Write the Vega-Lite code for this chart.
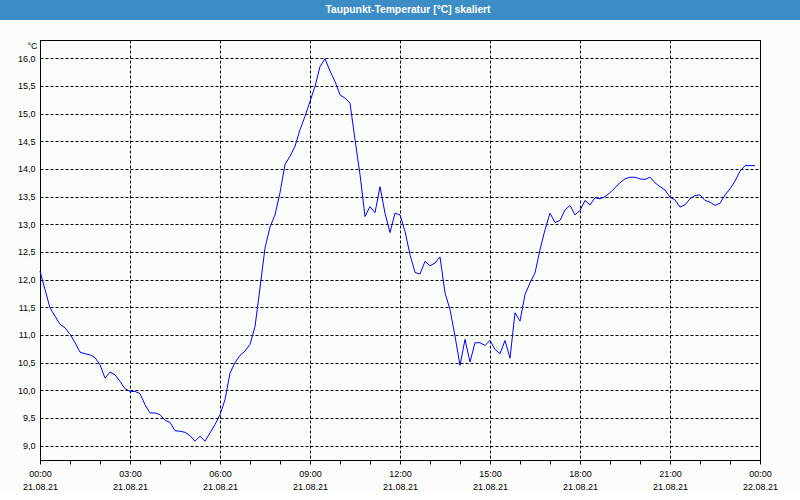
{
  "$schema": "https://vega.github.io/schema/vega-lite/v6.json",
  "padding": 0,
  "background": "#fbfdfb",
  "spacing": 20,
  "center": true,
  "bounds": "flush",
  "config": {"font": "Liberation Sans"},
  "vconcat": [
    {
      "width": 800,
      "height": 20,
      "view": {"fill": "#3c8dc5", "stroke": null},
      "data": {"values": [{"title": "Taupunkt-Temperatur [°C] skaliert"}]},
      "mark": {"type": "text", "color": "#ffffff", "font": "Liberation Sans", "fontWeight": "bold", "fontSize": 10.3, "dx": 8, "baseline": "middle"},
      "encoding": {"text": {"field": "title", "type": "nominal"}}
    },
    {
      "width": 720,
      "height": 420,
      "view": {"stroke": "#000000", "strokeWidth": 1, "fill": "#fbfdfb"},
      "data": {"values": [
        {"t":"2021-08-21T00:00","v":12.15},{"t":"2021-08-21T00:10","v":11.82},{"t":"2021-08-21T00:20","v":11.49},{"t":"2021-08-21T00:30","v":11.34},{"t":"2021-08-21T00:40","v":11.19},{"t":"2021-08-21T00:50","v":11.13},
        {"t":"2021-08-21T01:00","v":11.01},{"t":"2021-08-21T01:10","v":10.86},{"t":"2021-08-21T01:20","v":10.69},{"t":"2021-08-21T01:30","v":10.66},{"t":"2021-08-21T01:40","v":10.64},{"t":"2021-08-21T01:50","v":10.59},
        {"t":"2021-08-21T02:00","v":10.46},{"t":"2021-08-21T02:10","v":10.22},{"t":"2021-08-21T02:20","v":10.33},{"t":"2021-08-21T02:30","v":10.28},{"t":"2021-08-21T02:40","v":10.16},{"t":"2021-08-21T02:50","v":10.03},
        {"t":"2021-08-21T03:00","v":9.98},{"t":"2021-08-21T03:10","v":9.98},{"t":"2021-08-21T03:20","v":9.94},{"t":"2021-08-21T03:30","v":9.74},{"t":"2021-08-21T03:40","v":9.59},{"t":"2021-08-21T03:50","v":9.59},
        {"t":"2021-08-21T04:00","v":9.56},{"t":"2021-08-21T04:10","v":9.46},{"t":"2021-08-21T04:20","v":9.42},{"t":"2021-08-21T04:30","v":9.27},{"t":"2021-08-21T04:40","v":9.26},{"t":"2021-08-21T04:50","v":9.24},
        {"t":"2021-08-21T05:00","v":9.18},{"t":"2021-08-21T05:10","v":9.08},{"t":"2021-08-21T05:20","v":9.17},{"t":"2021-08-21T05:30","v":9.08},{"t":"2021-08-21T05:40","v":9.23},{"t":"2021-08-21T05:50","v":9.38},
        {"t":"2021-08-21T06:00","v":9.56},{"t":"2021-08-21T06:10","v":9.83},{"t":"2021-08-21T06:20","v":10.31},{"t":"2021-08-21T06:30","v":10.50},{"t":"2021-08-21T06:40","v":10.63},{"t":"2021-08-21T06:50","v":10.71},
        {"t":"2021-08-21T07:00","v":10.83},{"t":"2021-08-21T07:10","v":11.15},{"t":"2021-08-21T07:20","v":11.85},{"t":"2021-08-21T07:30","v":12.57},{"t":"2021-08-21T07:40","v":12.95},{"t":"2021-08-21T07:50","v":13.17},
        {"t":"2021-08-21T08:00","v":13.57},{"t":"2021-08-21T08:10","v":14.08},{"t":"2021-08-21T08:20","v":14.23},{"t":"2021-08-21T08:30","v":14.41},{"t":"2021-08-21T08:40","v":14.71},{"t":"2021-08-21T08:50","v":14.95},
        {"t":"2021-08-21T09:00","v":15.22},{"t":"2021-08-21T09:10","v":15.49},{"t":"2021-08-21T09:20","v":15.85},{"t":"2021-08-21T09:30","v":15.99},{"t":"2021-08-21T09:40","v":15.77},{"t":"2021-08-21T09:50","v":15.58},
        {"t":"2021-08-21T10:00","v":15.34},{"t":"2021-08-21T10:10","v":15.28},{"t":"2021-08-21T10:20","v":15.19},{"t":"2021-08-21T10:30","v":14.53},{"t":"2021-08-21T10:40","v":13.90},{"t":"2021-08-21T10:50","v":13.14},
        {"t":"2021-08-21T11:00","v":13.32},{"t":"2021-08-21T11:10","v":13.21},{"t":"2021-08-21T11:20","v":13.68},{"t":"2021-08-21T11:30","v":13.20},{"t":"2021-08-21T11:40","v":12.85},{"t":"2021-08-21T11:50","v":13.20},
        {"t":"2021-08-21T12:00","v":13.17},{"t":"2021-08-21T12:10","v":12.87},{"t":"2021-08-21T12:20","v":12.45},{"t":"2021-08-21T12:30","v":12.13},{"t":"2021-08-21T12:40","v":12.10},{"t":"2021-08-21T12:50","v":12.33},
        {"t":"2021-08-21T13:00","v":12.25},{"t":"2021-08-21T13:10","v":12.30},{"t":"2021-08-21T13:20","v":12.41},{"t":"2021-08-21T13:30","v":11.76},{"t":"2021-08-21T13:40","v":11.46},{"t":"2021-08-21T13:50","v":10.98},
        {"t":"2021-08-21T14:00","v":10.45},{"t":"2021-08-21T14:10","v":10.92},{"t":"2021-08-21T14:20","v":10.51},{"t":"2021-08-21T14:30","v":10.86},{"t":"2021-08-21T14:40","v":10.86},{"t":"2021-08-21T14:50","v":10.81},
        {"t":"2021-08-21T15:00","v":10.90},{"t":"2021-08-21T15:10","v":10.74},{"t":"2021-08-21T15:20","v":10.66},{"t":"2021-08-21T15:30","v":10.90},{"t":"2021-08-21T15:40","v":10.58},{"t":"2021-08-21T15:50","v":11.40},
        {"t":"2021-08-21T16:00","v":11.25},{"t":"2021-08-21T16:10","v":11.73},{"t":"2021-08-21T16:20","v":11.94},{"t":"2021-08-21T16:30","v":12.12},{"t":"2021-08-21T16:40","v":12.54},{"t":"2021-08-21T16:50","v":12.90},
        {"t":"2021-08-21T17:00","v":13.20},{"t":"2021-08-21T17:10","v":13.03},{"t":"2021-08-21T17:20","v":13.07},{"t":"2021-08-21T17:30","v":13.26},{"t":"2021-08-21T17:40","v":13.34},{"t":"2021-08-21T17:50","v":13.17},
        {"t":"2021-08-21T18:00","v":13.25},{"t":"2021-08-21T18:10","v":13.43},{"t":"2021-08-21T18:20","v":13.35},{"t":"2021-08-21T18:30","v":13.48},{"t":"2021-08-21T18:40","v":13.46},{"t":"2021-08-21T18:50","v":13.50},
        {"t":"2021-08-21T19:00","v":13.57},{"t":"2021-08-21T19:10","v":13.66},{"t":"2021-08-21T19:20","v":13.75},{"t":"2021-08-21T19:30","v":13.82},{"t":"2021-08-21T19:40","v":13.85},{"t":"2021-08-21T19:50","v":13.85},
        {"t":"2021-08-21T20:00","v":13.82},{"t":"2021-08-21T20:10","v":13.81},{"t":"2021-08-21T20:20","v":13.85},{"t":"2021-08-21T20:30","v":13.75},{"t":"2021-08-21T20:40","v":13.68},{"t":"2021-08-21T20:50","v":13.62},
        {"t":"2021-08-21T21:00","v":13.49},{"t":"2021-08-21T21:10","v":13.44},{"t":"2021-08-21T21:20","v":13.31},{"t":"2021-08-21T21:30","v":13.35},{"t":"2021-08-21T21:40","v":13.46},{"t":"2021-08-21T21:50","v":13.52},
        {"t":"2021-08-21T22:00","v":13.53},{"t":"2021-08-21T22:10","v":13.43},{"t":"2021-08-21T22:20","v":13.40},{"t":"2021-08-21T22:30","v":13.34},{"t":"2021-08-21T22:40","v":13.38},{"t":"2021-08-21T22:50","v":13.53},
        {"t":"2021-08-21T23:00","v":13.64},{"t":"2021-08-21T23:10","v":13.78},{"t":"2021-08-21T23:20","v":13.96},{"t":"2021-08-21T23:30","v":14.06},{"t":"2021-08-21T23:40","v":14.06},{"t":"2021-08-21T23:50","v":14.06}
      ]},
      "resolve": {"axis": {"x": "independent", "y": "independent"}},
      "layer": [
        {
          "mark": {"type": "line", "color": "#0000ff", "strokeWidth": 1, "opacity": 0},
          "encoding": {
            "x": {
              "field": "t", "type": "temporal",
              "scale": {"domain": [{"year": 2021, "month": 8, "date": 21, "hours": 0}, {"year": 2021, "month": 8, "date": 22, "hours": 0}], "nice": false},
              "axis": {
                "title": null, "orient": "bottom",
                "values": [
                  {"year": 2021, "month": 8, "date": 21, "hours": 1}, {"year": 2021, "month": 8, "date": 21, "hours": 2},
                  {"year": 2021, "month": 8, "date": 21, "hours": 4}, {"year": 2021, "month": 8, "date": 21, "hours": 5},
                  {"year": 2021, "month": 8, "date": 21, "hours": 7}, {"year": 2021, "month": 8, "date": 21, "hours": 8},
                  {"year": 2021, "month": 8, "date": 21, "hours": 10}, {"year": 2021, "month": 8, "date": 21, "hours": 11},
                  {"year": 2021, "month": 8, "date": 21, "hours": 13}, {"year": 2021, "month": 8, "date": 21, "hours": 14},
                  {"year": 2021, "month": 8, "date": 21, "hours": 16}, {"year": 2021, "month": 8, "date": 21, "hours": 17},
                  {"year": 2021, "month": 8, "date": 21, "hours": 19}, {"year": 2021, "month": 8, "date": 21, "hours": 20},
                  {"year": 2021, "month": 8, "date": 21, "hours": 22}, {"year": 2021, "month": 8, "date": 21, "hours": 23}
                ],
                "labels": false, "grid": false, "domain": false,
                "tickSize": 4, "tickColor": "#000000"
              }
            },
            "y": {
              "field": "v", "type": "quantitative",
              "scale": {"domain": [8.74, 16.33], "zero": false, "nice": false},
              "axis": {
                "title": "°C", "orient": "left", "titleAngle": 0, "titleAlign": "right", "titleBaseline": "middle",
                "titleX": -3, "titleY": 5, "titleFont": "Liberation Sans", "titleFontSize": 9, "titleFontWeight": "normal", "titleColor": "#000000",
                "values": [9, 9.5, 10, 10.5, 11, 11.5, 12, 12.5, 13, 13.5, 14, 14.5, 15, 15.5, 16],
                "labelExpr": "replace(format(datum.value, '.1f'), '.', ',')",
                "labelOverlap": false,
                "ticks": false, "labelPadding": 5,
                "labelFont": "Liberation Sans", "labelFontSize": 9, "labelColor": "#000000",
                "domainColor": "#000000",
                "grid": true, "gridColor": "#000000", "gridDash": [3, 2]
              }
            }
          }
        },
        {
          "mark": {"type": "line", "color": "#0000ff", "strokeWidth": 1, "opacity": 0},
          "encoding": {
            "x": {
              "field": "t", "type": "temporal",
              "axis": {
                "title": null, "orient": "bottom",
                "values": [
                  {"year": 2021, "month": 8, "date": 21, "hours": 0}, {"year": 2021, "month": 8, "date": 21, "hours": 3},
                  {"year": 2021, "month": 8, "date": 21, "hours": 6}, {"year": 2021, "month": 8, "date": 21, "hours": 9},
                  {"year": 2021, "month": 8, "date": 21, "hours": 12}, {"year": 2021, "month": 8, "date": 21, "hours": 15},
                  {"year": 2021, "month": 8, "date": 21, "hours": 18}, {"year": 2021, "month": 8, "date": 21, "hours": 21},
                  {"year": 2021, "month": 8, "date": 22, "hours": 0}
                ],
                "format": "%d.%m.%y",
                "labelOverlap": false, "labelFlush": false, "labelBound": false,
                "labelFont": "Liberation Sans", "labelFontSize": 9, "labelColor": "#000000",
                "labelBaseline": "middle", "labelPadding": 26,
                "ticks": false, "domain": false, "grid": false
              }
            },
            "y": {"field": "v", "type": "quantitative", "axis": null}
          }
        },
        {
          "mark": {"type": "line", "color": "#0000ff", "strokeWidth": 1},
          "encoding": {
            "x": {
              "field": "t", "type": "temporal",
              "axis": {
                "title": null, "orient": "bottom",
                "values": [
                  {"year": 2021, "month": 8, "date": 21, "hours": 0}, {"year": 2021, "month": 8, "date": 21, "hours": 3},
                  {"year": 2021, "month": 8, "date": 21, "hours": 6}, {"year": 2021, "month": 8, "date": 21, "hours": 9},
                  {"year": 2021, "month": 8, "date": 21, "hours": 12}, {"year": 2021, "month": 8, "date": 21, "hours": 15},
                  {"year": 2021, "month": 8, "date": 21, "hours": 18}, {"year": 2021, "month": 8, "date": 21, "hours": 21},
                  {"year": 2021, "month": 8, "date": 22, "hours": 0}
                ],
                "format": "%H:%M",
                "labelOverlap": false, "labelFlush": false, "labelBound": false,
                "labelFont": "Liberation Sans", "labelFontSize": 9, "labelColor": "#000000",
                "labelBaseline": "middle", "labelPadding": 9,
                "tickSize": 4, "tickColor": "#000000", "domainColor": "#000000",
                "grid": true, "gridColor": "#000000", "gridDash": [3, 2]
              }
            },
            "y": {"field": "v", "type": "quantitative", "axis": null}
          }
        }
      ]
    }
  ]
}
